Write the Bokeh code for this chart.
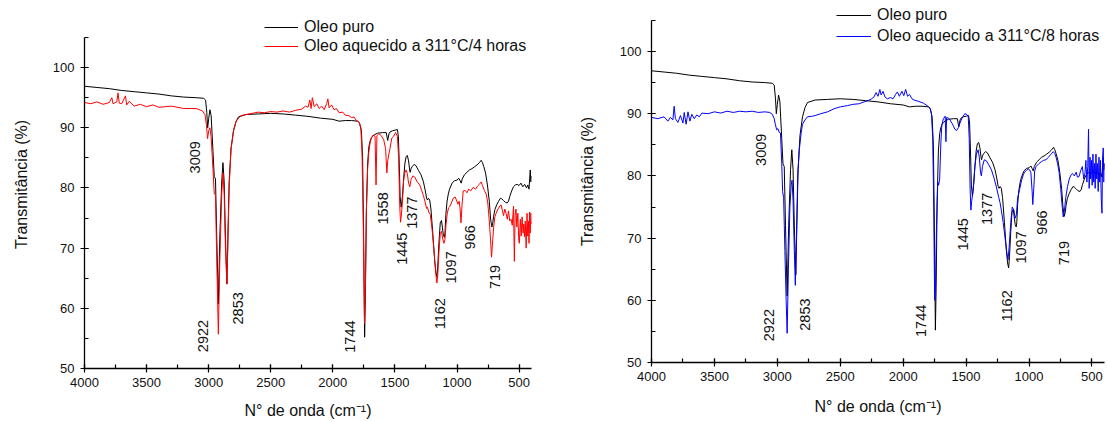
from bokeh.plotting import figure
from bokeh.models import Range1d, SingleIntervalTicker, ColumnDataSource, Legend, LegendItem
from bokeh.embed import file_html
from bokeh.resources import INLINE
from bokeh.core.properties import value
from bokeh.core.templates import get_env

# ---------------- data ----------------
wn_puro = [4000, 3900, 3800, 3700, 3600, 3500, 3400, 3300, 3200, 3100, 3040, 3025, 3015, 3008, 3000,
           2990, 2980, 2965, 2955, 2945, 2935, 2922, 2910, 2895, 2885, 2875, 2865, 2853, 2845, 2835,
           2820, 2800, 2780, 2760, 2700, 2600, 2500, 2400, 2300, 2200, 2100, 2000, 1950, 1900, 1850,
           1800, 1785, 1770, 1760, 1752, 1744, 1738, 1730, 1720, 1710, 1700, 1690, 1680, 1660, 1640,
           1600, 1570, 1558, 1548, 1540, 1520, 1500, 1480, 1472, 1465, 1458, 1450, 1445, 1438, 1430,
           1420, 1410, 1400, 1390, 1380, 1377, 1370, 1360, 1345, 1330, 1310, 1290, 1270, 1255, 1245,
           1238, 1230, 1220, 1210, 1195, 1180, 1170, 1162, 1155, 1145, 1135, 1125, 1118, 1110, 1102,
           1097, 1090, 1080, 1070, 1060, 1040, 1020, 1000, 985, 975, 966, 958, 940, 920, 900, 880, 860,
           840, 820, 805, 795, 785, 770, 755, 740, 730, 722, 719, 712, 705, 695, 680, 665, 650, 640,
           625, 610, 595, 585, 575, 560, 545, 530, 515, 500, 485, 470, 455, 440, 430, 420, 415, 410,
           405, 400]
t_puro = [96.9, 96.7, 96.5, 96.2, 96.0, 95.8, 95.6, 95.3, 95.1, 95.0, 94.9, 94.6, 92.5, 90.0, 91.5,
          93.0, 92.0, 86.0, 81.9, 81.5, 72.0, 60.7, 72.0, 81.0, 84.2, 81.0, 72.0, 64.1, 72.0, 81.0,
          86.5, 89.5, 91.0, 91.8, 92.2, 92.3, 92.4, 92.3, 92.1, 91.9, 91.6, 91.4, 91.1, 91.2, 91.2,
          91.1, 90.8, 89.5, 85.0, 72.0, 55.2, 62.0, 76.0, 84.0, 86.8, 87.8, 88.3, 88.6, 88.9, 89.1,
          89.2, 89.2, 87.9, 89.0, 89.3, 89.5, 89.6, 89.7, 88.5, 84.0, 78.5, 76.8, 77.5, 79.0, 81.5,
          84.0, 85.2, 85.4, 84.5, 82.8, 82.6, 83.2, 83.6, 83.9, 83.7, 82.9, 82.2, 81.0, 79.5, 78.3,
          78.0, 78.3, 78.0, 76.5, 72.5, 68.0, 66.0, 65.2, 67.0, 71.0, 74.2, 74.6, 73.5, 72.2, 71.8,
          72.5, 75.5, 77.8, 79.0, 79.8, 80.8, 81.2, 81.3, 81.6, 81.2, 80.8, 81.5, 82.2, 82.6, 83.0,
          83.2, 83.5, 83.8, 84.2, 84.6, 84.2, 83.6, 82.5, 80.5, 77.8, 75.0, 73.8, 73.5, 74.2, 75.3,
          76.4, 77.2, 77.8, 78.3, 78.2, 77.9, 77.6, 77.5, 77.8, 78.6, 79.5, 80.2, 80.5, 80.6, 80.4,
          80.8, 80.2, 80.6, 80.0, 80.5, 79.8, 81.5, 83.0, 81.0, 82.0]

wn_4h = [4000, 3950, 3900, 3850, 3800, 3780, 3770, 3740, 3730, 3720, 3700, 3670, 3660, 3640, 3600,
         3550, 3500, 3450, 3400, 3300, 3200, 3100, 3050, 3030, 3018, 3009, 3000, 2990, 2980, 2965,
         2955, 2945, 2935, 2922, 2910, 2895, 2885, 2875, 2865, 2853, 2845, 2835, 2820, 2800, 2780,
         2760, 2740, 2700, 2650, 2600, 2550, 2500, 2450, 2400, 2350, 2300, 2250, 2220, 2200, 2185,
         2175, 2165, 2150, 2130, 2110, 2090, 2070, 2050, 2040, 2030, 2010, 1990, 1970, 1950, 1920,
         1900, 1870, 1850, 1830, 1810, 1790, 1775, 1765, 1755, 1745, 1738, 1730, 1720, 1710, 1700,
         1690, 1675, 1660, 1652, 1645, 1630, 1610, 1590, 1575, 1565, 1558, 1550, 1540, 1525, 1510,
         1495, 1480, 1470, 1462, 1455, 1448, 1440, 1430, 1420, 1410, 1400, 1390, 1380, 1370, 1355,
         1340, 1320, 1300, 1285, 1270, 1255, 1245, 1238, 1228, 1215, 1200, 1185, 1172, 1162, 1155,
         1145, 1135, 1125, 1115, 1105, 1097, 1088, 1078, 1068, 1058, 1045, 1030, 1015, 1005, 992,
         983, 975, 968, 960, 950, 935, 920, 905, 890, 870, 850, 835, 820, 805, 795, 780, 765, 752,
         740, 730, 722, 715, 705, 695, 685, 670, 655, 645, 635, 625, 615, 605, 595, 585, 575, 565,
         555, 545, 538, 532, 525, 518, 510, 503, 498, 490, 483, 476, 468, 462, 457, 450, 443, 436,
         430, 425, 420, 415, 410, 405, 400]
t_4h = [94.2, 94.0, 94.3, 93.9, 94.2, 95.0, 94.0, 94.3, 95.8, 94.1, 94.0, 95.3, 93.8, 94.4, 93.6,
        93.9, 93.5, 93.8, 93.4, 93.6, 93.2, 93.2, 92.8, 92.2, 90.5, 88.2, 89.5, 90.0, 88.5, 83.0,
        79.0, 78.8, 68.0, 55.7, 68.0, 79.0, 82.5, 79.0, 70.0, 64.0, 71.0, 80.0, 86.5, 89.5, 91.0,
        91.6, 92.0, 92.2, 92.4, 92.6, 92.5, 92.7, 92.6, 92.8, 92.6, 92.9, 93.1, 93.6, 93.4, 94.6,
        93.2, 95.0, 93.5, 94.0, 93.2, 93.6, 93.0, 94.0, 94.8, 93.3, 93.8, 93.0, 93.2, 92.5, 92.6,
        92.1, 92.0, 91.7, 91.8, 91.2, 91.0, 90.0, 86.0, 74.0, 57.5, 63.0, 76.0, 83.0, 86.0, 87.5,
        88.3, 88.8, 88.6, 80.5, 88.7, 89.0, 88.7, 88.0, 86.5, 82.5, 84.5, 85.5, 86.5, 88.3, 88.6,
        89.2, 88.6, 85.0, 77.5, 74.3, 75.5, 77.5, 81.2, 82.5, 83.0, 82.4, 80.8, 80.2, 81.4, 82.0,
        81.8, 81.0, 80.5, 79.6, 78.7, 77.5, 76.6, 76.8, 76.0, 75.6, 73.0, 69.5, 66.0, 64.2, 65.5,
        69.5, 72.4, 72.8, 71.5, 70.8, 71.5, 74.0, 75.8, 76.7, 76.9, 77.5, 78.3, 78.5, 78.0, 77.3,
        77.8, 76.5, 74.2, 77.0, 79.5, 79.6, 79.2, 79.8, 79.5, 80.1, 79.8, 80.3, 80.6, 81.0, 80.4,
        79.6, 79.0, 77.5, 74.5, 71.5, 68.5, 70.5, 73.5, 75.2, 75.8, 76.5, 77.0, 77.2, 76.3, 75.4,
        76.5, 75.8, 74.8, 76.2, 74.5, 74.8, 73.8, 77.0, 67.8, 75.5, 76.5, 73.5, 75.8, 71.5, 70.8,
        74.8, 72.0, 75.2, 72.5, 74.0, 71.9, 74.5, 70.0, 75.8, 72.0, 74.5, 70.8, 76.0, 72.5, 75.8,
        74.0]

wn_8h = [4000, 3950, 3900, 3870, 3850, 3830, 3820, 3810, 3790, 3770, 3750, 3740, 3725, 3710, 3695,
         3680, 3660, 3640, 3620, 3600, 3550, 3500, 3450, 3400, 3350, 3300, 3250, 3200, 3150, 3100,
         3060, 3040, 3025, 3015, 3005, 2995, 2985, 2975, 2965, 2958, 2950, 2940, 2930, 2922, 2912,
         2900, 2890, 2883, 2875, 2865, 2857, 2848, 2838, 2826, 2810, 2800, 2780, 2761, 2720, 2700,
         2655, 2600, 2549, 2500, 2443, 2400, 2350, 2311, 2280, 2250, 2232, 2215, 2200, 2185, 2175,
         2160, 2145, 2126, 2100, 2080, 2060, 2046, 2030, 2010, 1995, 1980, 1965, 1950, 1930, 1914,
         1880, 1839, 1810, 1786, 1775, 1765, 1757, 1750, 1743, 1735, 1725, 1718, 1710, 1700, 1693,
         1680, 1666, 1660, 1655, 1640, 1628, 1610, 1600, 1589, 1575, 1560, 1549, 1530, 1510, 1495,
         1483, 1475, 1468, 1462, 1455, 1445, 1430, 1418, 1404, 1395, 1385, 1378, 1370, 1355, 1338,
         1320, 1299, 1280, 1259, 1240, 1230, 1220, 1205, 1190, 1175, 1167, 1158, 1145, 1133, 1120,
         1110, 1100, 1090, 1075, 1060, 1045, 1035, 1020, 1005, 996, 985, 975, 970, 962, 955, 944,
         920, 900, 885, 865, 845, 825, 807, 795, 785, 773, 760, 748, 738, 728, 718, 708, 694, 680,
         665, 655, 640, 625, 615, 602, 590, 576, 565, 555, 548, 540, 533, 527, 522, 515, 510, 504,
         498, 492, 486, 480, 474, 468, 462, 456, 450, 444, 438, 432, 426, 420, 415, 410, 405, 400]
t_8h = [89.4, 89.2, 89.5, 88.8, 89.4, 89.0, 91.2, 89.2, 88.6, 89.7, 88.5, 90.2, 88.3, 90.3, 88.8,
        89.9, 89.2, 89.8, 89.5, 90.1, 90.0, 90.3, 90.1, 90.4, 90.2, 90.4, 90.3, 90.4, 90.2, 90.3,
        90.2, 89.9, 89.2, 88.2, 87.4, 87.6, 87.0, 86.9, 82.0, 77.5, 76.5, 68.0, 60.0, 54.7, 65.0,
        75.0, 78.5, 79.3, 76.0, 68.0, 62.4, 70.0, 80.0, 84.1, 87.0, 88.3, 89.0, 89.5, 89.6, 89.7,
        90.0, 90.3, 90.8, 91.1, 91.3, 91.5, 91.6, 91.9, 92.1, 92.4, 92.7, 93.4, 92.8, 93.9, 93.0,
        93.6, 92.7, 92.4, 92.6, 92.4, 93.1, 93.5, 92.8, 93.6, 92.9, 93.9, 92.8, 93.1, 92.4, 92.2,
        92.0, 91.7, 91.3, 90.9, 90.0, 86.0, 75.0, 60.0, 62.0, 72.0, 79.0, 78.5, 79.5, 85.5, 88.2,
        89.2, 89.6, 85.5, 89.4, 89.3, 89.0, 88.4, 88.0, 87.5, 87.3, 87.8, 88.5, 89.4, 90.0, 89.9,
        89.6, 86.0, 78.0, 74.5, 76.0, 77.5, 81.5, 83.5, 84.2, 83.0, 80.5, 80.0, 81.5, 82.6, 82.4,
        81.8, 81.0, 79.8, 78.2, 76.5, 75.7, 74.5, 72.5, 70.0, 67.5, 66.5, 68.5, 72.5, 75.0, 74.5,
        73.2, 73.8, 76.5, 77.8, 79.2, 80.2, 80.6, 80.9, 81.1, 81.0, 80.5, 77.5, 75.4, 78.0, 80.8, 81.5,
        82.0, 82.3, 82.5, 82.6, 83.0, 83.5, 83.9, 83.6, 83.0, 82.0, 80.5, 78.0, 75.5, 73.4, 74.5,
        76.5, 78.3, 79.5, 80.2, 80.4, 80.0, 80.6, 79.8, 79.9, 80.8, 81.5, 79.5, 80.5, 82.5, 79.0,
        81.5, 87.5, 78.0, 83.0, 79.5, 82.5, 78.5, 83.5, 79.0, 82.0, 78.0, 83.5, 79.5, 82.0, 77.5,
        83.0, 79.0, 82.5, 76.5, 74.0, 83.0, 84.5, 79.0, 82.0]

# peak labels (text, label anchor in data units)
peaks_4h_text = ["3009", "2922", "2853", "1744", "1558", "1445", "1377", "1162", "1097", "966", "719"]
peaks_4h_x = [3110, 3044, 2764, 1863, 1592, 1439, 1362, 1137, 1051, 893, 691]
peaks_4h_y = [85.1, 55.4, 60.0, 55.3, 76.6, 69.9, 75.9, 59.1, 66.8, 71.8, 65.2]

peaks_8h_text = ["3009", "2922", "2853", "1744", "1445", "1377", "1162", "1097", "966", "719"]
peaks_8h_x = [3130, 3066, 2784, 1857, 1524, 1330, 1172, 1066, 900, 720]
peaks_8h_y = [84.2, 56.0, 57.7, 56.7, 70.6, 74.7, 59.1, 68.5, 72.5, 67.6]

label_puro = "Oleo puro"
label_4h = "Oleo aquecido a 311°C/4 horas"
label_8h = "Oleo aquecido a 311°C/8 horas"

FONT = "Liberation Sans"
TXT = "#111111"


def make_panel(width, height, borders, y_top, color, wn, tr, label, ptext, px, py,
               legend_loc, glyph_w, row_h, row_gap, y_std, x_std):
    left, right, bottom = borders
    p = figure(width=width, height=height, output_backend="svg", toolbar_location=None,
               x_range=Range1d(4000, 400), y_range=Range1d(50, y_top),
               min_border_left=left, min_border_right=right,
               min_border_top=0, min_border_bottom=bottom)
    p.outline_line_color = None
    p.grid.visible = False
    p.background_fill_color = "white"
    p.border_fill_color = "white"

    p.xaxis.ticker = SingleIntervalTicker(interval=500, num_minor_ticks=2)
    p.yaxis.ticker = SingleIntervalTicker(interval=10, num_minor_ticks=2)
    p.yaxis.bounds = (50, 105)
    for ax in (p.xaxis[0], p.yaxis[0]):
        ax.axis_line_color = "#000000"
        ax.axis_line_width = 1.3
        ax.major_tick_line_color = "#000000"
        ax.minor_tick_line_color = "#000000"
        ax.major_tick_line_width = 1.2
        ax.minor_tick_line_width = 1.2
        ax.major_tick_in = 4
        ax.major_tick_out = 4
        ax.minor_tick_in = 4
        ax.minor_tick_out = 0
        ax.major_label_text_font = FONT
        ax.major_label_text_font_size = "13px"
        ax.major_label_text_color = TXT
        ax.axis_label_text_font = FONT
        ax.axis_label_text_font_size = "16px"
        ax.axis_label_text_font_style = "normal"
        ax.axis_label_text_color = TXT
    p.yaxis.major_label_standoff = 6
    p.xaxis.major_label_standoff = 5
    p.yaxis.axis_label = "Transmitância (%)"
    p.xaxis.axis_label = "N° de onda (cm⁻¹)"
    p.yaxis.axis_label_standoff = y_std
    p.xaxis.axis_label_standoff = x_std

    r0 = p.line(wn_puro, t_puro, line_color="#000000", line_width=1)
    r1 = p.line(wn, tr, line_color=color, line_width=1)

    src = ColumnDataSource(dict(x=px, y=py, t=ptext))
    p.text(x="x", y="y", text="t", source=src, angle=1.5707963, text_align="center",
           text_baseline="middle", text_font=value(FONT), text_font_size="14.5px",
           text_color=TXT)

    leg = Legend(items=[LegendItem(label=label_puro, renderers=[r0]),
                        LegendItem(label=label, renderers=[r1])],
                 location=legend_loc, orientation="vertical")
    leg.border_line_color = None
    leg.background_fill_alpha = 0
    leg.padding = 0
    leg.margin = 0
    leg.spacing = row_gap
    leg.glyph_width = glyph_w
    leg.glyph_height = row_h
    leg.label_height = row_h
    leg.label_standoff = 6
    leg.label_text_font = FONT
    leg.label_text_font_size = "16px"
    leg.label_text_color = TXT
    leg.label_text_baseline = "middle"
    p.add_layout(leg)
    return p


p1 = make_panel(560, 422, (84, 29, 54), 111.15, "#ff0000", wn_4h, t_4h, label_4h,
                peaks_4h_text, peaks_4h_x, peaks_4h_y, (180, 313), 34, 16, 1, 20, 12)
p2 = make_panel(547, 422, (91, 3, 60), 108.2, "#0000ff", wn_8h, t_8h, label_8h,
                peaks_8h_text, peaks_8h_x, peaks_8h_y, (185, 317), 35, 18, 3, 21, 14)

# two independent roots placed side by side (so that their frames are not aligned)
TEMPLATE = get_env().from_string("""{% extends "file.html" %}
{% block contents %}
{% from macros import embed %}
<div style="display:flex;flex-direction:row;align-items:flex-start;margin:0;padding:0;">
{% for doc in docs %}{% for root in doc.roots %}<div style="width:{{ 560 if loop.index == 1 else 547 }}px;height:422px;">{{ embed(root) }}</div>{% endfor %}{% endfor %}
</div>
{% endblock %}
""")

open("out.html", "w").write(file_html([p1, p2], INLINE, template=TEMPLATE))
